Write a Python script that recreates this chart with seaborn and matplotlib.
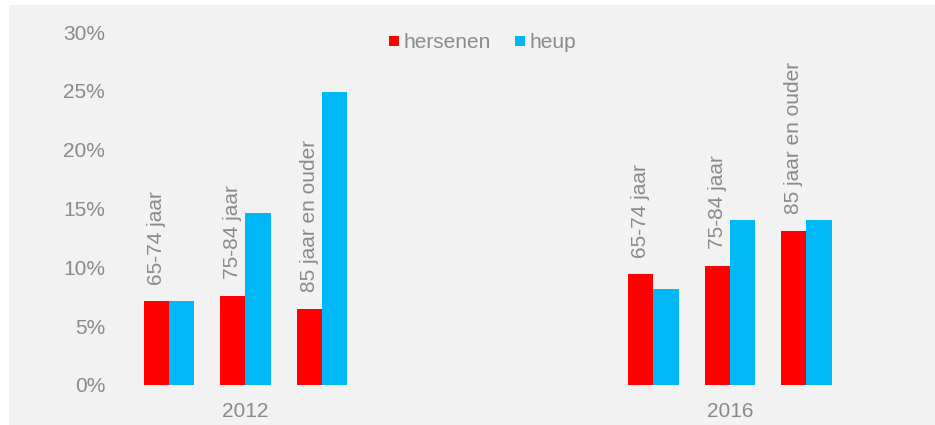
import pandas as pd
import matplotlib.pyplot as plt
import seaborn as sns
from matplotlib.lines import Line2D
from matplotlib.patches import Rectangle


# waarden (percentages)
years = ['2012', '2016']
ages = ['65-74 jaar', '75-84 jaar', '85 jaar en ouder']
series = ['hersenen', 'heup']
hersenen_2012 = [7.1, 7.6, 6.5]
heup_2012 = [7.1, 14.6, 24.9]
hersenen_2016 = [9.4, 10.1, 13.1]
heup_2016 = [8.2, 14.0, 14.0]
y_ticks = [0, 5, 10, 15, 20, 25, 30]

colors = {'hersenen': '#ff0000', 'heup': '#00b8f5'}
text_color = '#8a8a8a'
bg_color = '#f2f2f2'

sns.set_theme(style='white')
plt.rcParams['font.family'] = ['Liberation Sans', 'DejaVu Sans']

values = {('2012', 'hersenen'): hersenen_2012, ('2012', 'heup'): heup_2012,
          ('2016', 'hersenen'): hersenen_2016, ('2016', 'heup'): heup_2016}
df = pd.DataFrame([{'jaar': y, 'leeftijd': a, 'serie': s, 'waarde': v}
                   for (y, s), vals in values.items()
                   for a, v in zip(ages, vals)])

W, H = 935, 425
fig = plt.figure(figsize=(W / 100, H / 100), dpi=100, facecolor='white')
fig.patches.append(Rectangle((9 / W, 0), 1, 1 - 5 / H, transform=fig.transFigure,
                             facecolor=bg_color, edgecolor='none', zorder=-10))

# one axes per jaar, placed in pixels
unit = 76.5
ax_bottom, ax_top = 385, 32
lefts = [169 - unit / 2, 653.3 - unit / 2]
axes = [fig.add_axes([l / W, (H - ax_bottom) / H, 3 * unit / W,
                      (ax_bottom - ax_top) / H]) for l in lefts]

for ax, year in zip(axes, years):
    sns.barplot(data=df[df['jaar'] == year], x='leeftijd', y='waarde',
                hue='serie', order=ages, hue_order=series, palette=colors,
                width=0.66, saturation=1, linewidth=0, legend=False, ax=ax)
    ax.set_facecolor('none')
    ax.set_ylim(0, 30)
    ax.set_xlim(-0.5, 2.5)
    sns.despine(ax=ax, left=True, bottom=True)
    ax.set_xticks([])
    ax.set_xlabel(year, color=text_color, fontsize=15, labelpad=12)
    ax.set_ylabel('')
    # leeftijdslabels boven de rode staven
    for bar, age in zip(ax.containers[0], ages):
        ax.annotate(age, xy=(bar.get_x() + bar.get_width() / 2, bar.get_height()),
                    xytext=(0, 12), textcoords='offset points', rotation=90,
                    ha='center', va='bottom', fontsize=15, color=text_color)

axes[0].set_yticks(y_ticks)
axes[0].set_yticklabels([f'{t}%' for t in y_ticks])
axes[0].tick_params(axis='y', length=0, pad=18.5, labelsize=15,
                    labelcolor=text_color)
axes[1].set_yticks([])

handles = [Line2D([], [], marker='s', linestyle='none', markersize=7.5,
                  markerfacecolor=colors[s], markeredgewidth=0) for s in series]
leg = fig.legend(handles, series, loc='center', bbox_to_anchor=(482 / W, 1 - 43 / H),
                 ncol=2, frameon=False, fontsize=15, handlelength=0.6,
                 handletextpad=0.15, columnspacing=1.1)
for t in leg.get_texts():
    t.set_color(text_color)

fig.savefig('out.png', dpi=100, facecolor=fig.get_facecolor())
